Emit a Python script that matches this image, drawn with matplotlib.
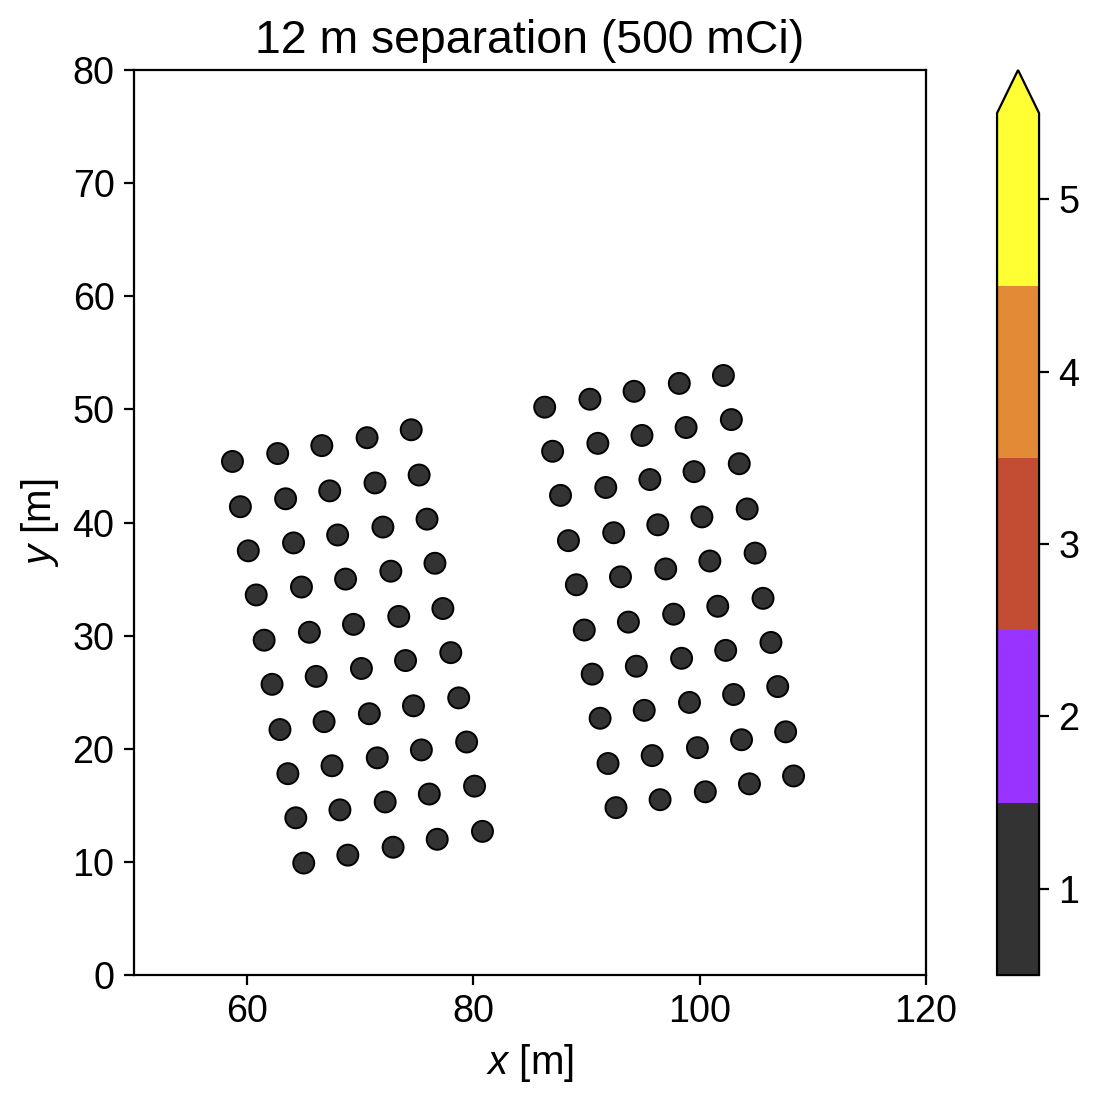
import numpy as np
import matplotlib
matplotlib.use("Agg")
import matplotlib.pyplot as plt
from matplotlib.colors import ListedColormap, BoundaryNorm

plt.rcParams['font.family'] = ['Liberation Sans', 'DejaVu Sans']
plt.rcParams['mathtext.fontset'] = 'custom'
plt.rcParams['mathtext.it'] = 'Liberation Sans:italic'
plt.rcParams['mathtext.rm'] = 'Liberation Sans'

# source positions (rows top -> bottom, 5 per row)
left_x = [
    [58.7, 62.7, 66.6, 70.6, 74.5],
    [59.4, 63.4, 67.3, 71.3, 75.2],
    [60.1, 64.1, 68.0, 72.0, 75.9],
    [60.8, 64.8, 68.7, 72.7, 76.6],
    [61.5, 65.5, 69.4, 73.4, 77.3],
    [62.2, 66.1, 70.1, 74.0, 78.0],
    [62.9, 66.8, 70.8, 74.7, 78.7],
    [63.6, 67.5, 71.5, 75.4, 79.4],
    [64.3, 68.2, 72.2, 76.1, 80.1],
    [65.0, 68.9, 72.9, 76.8, 80.8],
]
left_y = [
    [45.4, 46.1, 46.8, 47.5, 48.2],
    [41.4, 42.1, 42.8, 43.5, 44.2],
    [37.5, 38.2, 38.9, 39.6, 40.3],
    [33.6, 34.3, 35.0, 35.7, 36.4],
    [29.6, 30.3, 31.0, 31.7, 32.4],
    [25.7, 26.4, 27.1, 27.8, 28.5],
    [21.7, 22.4, 23.1, 23.8, 24.5],
    [17.8, 18.5, 19.2, 19.9, 20.6],
    [13.9, 14.6, 15.3, 16.0, 16.7],
    [9.9, 10.6, 11.3, 12.0, 12.7],
]
right_x = [
    [86.3, 90.3, 94.2, 98.2, 102.1],
    [87.0, 91.0, 94.9, 98.8, 102.8],
    [87.7, 91.7, 95.6, 99.5, 103.5],
    [88.4, 92.4, 96.3, 100.2, 104.2],
    [89.1, 93.0, 97.0, 100.9, 104.9],
    [89.8, 93.7, 97.7, 101.6, 105.6],
    [90.5, 94.4, 98.4, 102.3, 106.3],
    [91.2, 95.1, 99.1, 103.0, 106.9],
    [91.9, 95.8, 99.8, 103.7, 107.6],
    [92.6, 96.5, 100.5, 104.4, 108.3],
]
right_y = [
    [50.2, 50.9, 51.6, 52.3, 53.0],
    [46.3, 47.0, 47.7, 48.4, 49.1],
    [42.4, 43.1, 43.8, 44.5, 45.2],
    [38.4, 39.1, 39.8, 40.5, 41.2],
    [34.5, 35.2, 35.9, 36.6, 37.3],
    [30.5, 31.2, 31.9, 32.6, 33.3],
    [26.6, 27.3, 28.0, 28.7, 29.4],
    [22.7, 23.4, 24.1, 24.8, 25.5],
    [18.7, 19.4, 20.1, 20.8, 21.5],
    [14.8, 15.5, 16.2, 16.9, 17.6],
]
# every source has level 1
level = 1

level_colors = ['#333333', '#9933ff', '#c24d33', '#e28a35', '#ffff33']
level_bounds = [0.5, 1.5, 2.5, 3.5, 4.5, 5.5]
cbar_ticks = [1, 2, 3, 4, 5]

xs = np.concatenate([np.ravel(left_x), np.ravel(right_x)])
ys = np.concatenate([np.ravel(left_y), np.ravel(right_y)])
vals = np.full(xs.shape, level)

cmap = ListedColormap(level_colors)
cmap.set_over(level_colors[-1])
norm = BoundaryNorm(level_bounds, cmap.N)

fig = plt.figure(figsize=(5.5, 5.515), dpi=200)
ax = fig.add_axes([0.1218, 0.1160, 0.72, 0.8205])
cax = fig.add_axes([0.9064, 0.1160, 0.0382, 0.8205])

sc = ax.scatter(xs, ys, c=vals, cmap=cmap, norm=norm, s=57,
                edgecolors='k', linewidths=0.7, zorder=3)
ax.set_xlim(50, 120)
ax.set_ylim(0, 80)
ax.set_aspect('equal')
ax.set_xticks([60, 80, 100, 120])
ax.set_yticks(range(0, 81, 10))
ax.tick_params(labelsize=13.6)
ax.set_xlabel('$x$ [m]', fontsize=14.5)
ax.set_ylabel('$y$ [m]', fontsize=14.5)
ax.set_title('12 m separation (500 mCi)', fontsize=16.7)

cb = fig.colorbar(sc, cax=cax, extend='max', ticks=cbar_ticks)
cb.ax.minorticks_off()
cb.ax.tick_params(labelsize=13.6)

fig.savefig('out.png', dpi=200)
